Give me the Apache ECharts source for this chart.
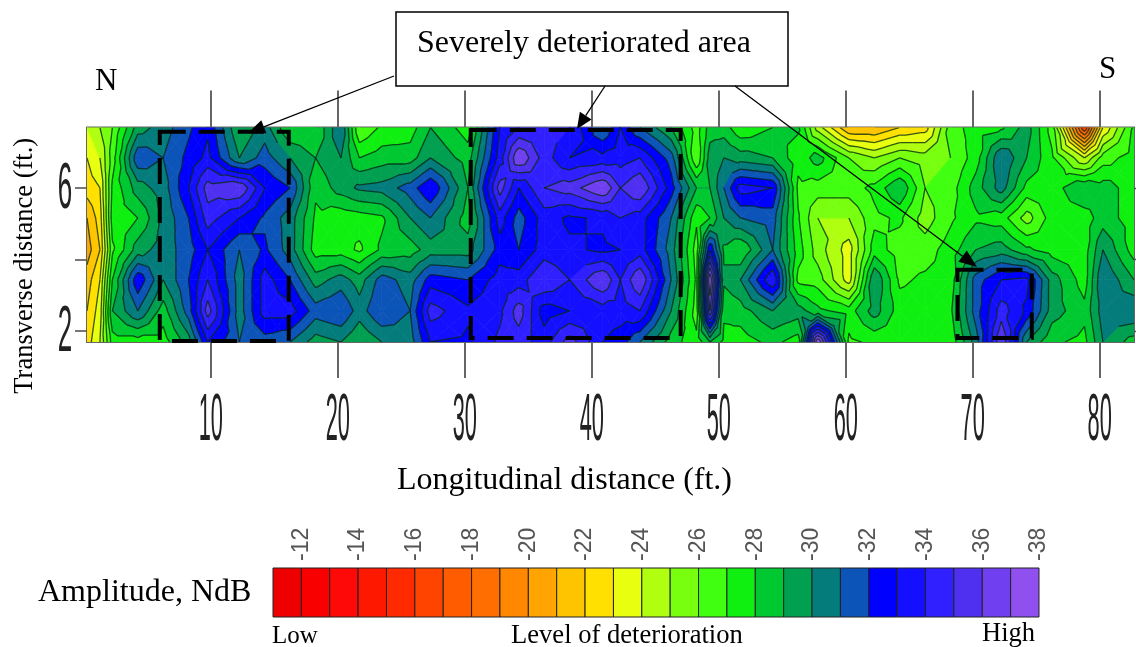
<!DOCTYPE html>
<html><head><meta charset="utf-8">
<style>html,body{margin:0;padding:0;background:#fff}#c{width:1136px;height:647px;filter:blur(0.45px)}</style>
<script src="https://cdn.jsdelivr.net/npm/echarts@6/dist/echarts.min.js"></script>
</head><body><div id="c"></div>
<script>
// longitudinal positions (ft) of the columns of readings
const xPositions=[0.25,1.27,2.25,4.25,6.25,8.25,9.76,12.25,14.25,16.25,18.25,20.25,21.7,23.46,25.7,27.3,30.25,32.76,34.25,36.25,38.25,40.87,42.25,43.8,46.25,48.25,49.3,50.4,51.7,54.25,56.25,57.8,60.25,62.25,64.25,66.25,68.25,70.25,72.25,74.25,76.25,78.8,80.25,82.7];
// transverse positions (ft) of the rows of readings, top to bottom
const yPositions=[7.69,6.84,6.0,5.16,4.27,3.43,2.56,1.69];
// amplitude (NdB) read at each transverse position, one list per longitudinal position
const c00=[-24,-23,-22.5,-21,-20.5,-21.5,-22,-22.5];
const c00a=[-25,-24,-23,-22.5,-22,-23,-23.5,-24];
const c01=[-26,-26.5,-27.2,-27.5,-26.8,-28,-29,-27.5];
const c02=[-29.5,-31.8,-29.5,-28,-29.5,-32.8,-31,-27.5];
const c03=[-30.5,-31,-30.5,-30.2,-30.5,-30,-28.5,-27.5];
const c04=[-31.8,-32.3,-33,-32,-31.5,-32,-31.5,-29.5];
const c05=[-32.8,-33.3,-35.5,-34.5,-33,-34,-35.5,-33];
const c06=[-29,-30,-36,-33,-31,-30.5,-30.5,-31];
const c07=[-30.5,-31.5,-33,-31.8,-32.2,-33.5,-33.5,-31.5];
const c08=[-28,-30,-32,-30.5,-30.5,-32,-33.5,-31];
const c09=[-28,-29,-28.2,-27.8,-27.5,-29.5,-31.5,-29.5];
const c10=[-31,-30,-29.5,-27.3,-27.5,-30.5,-32,-30];
const c11=[-26,-28,-30.2,-27.5,-26.8,-29.5,-30.5,-29];
const c12=[-27.2,-28.5,-30.4,-27.8,-28.2,-31.5,-32,-30];
const c13=[-27.5,-28.5,-31.5,-30,-28.5,-30.5,-31,-30.5];
const c14=[-29,-30,-33,-31,-29.5,-32.5,-34.5,-33];
const c15=[-27.5,-28.5,-29,-28.5,-29.5,-32,-33.2,-32.8];
const c16=[-33,-33.5,-35.5,-33.5,-32.5,-33.5,-33.8,-34.2];
const c17=[-34,-37,-33,-31.5,-32,-33.5,-35.5,-34.5];
const c18=[-34.5,-34.5,-35,-33.5,-33.5,-35,-32.5,-33.5];
const c19=[-34,-33,-35.5,-32.8,-33.2,-34,-33,-35.5];
const c20=[-31,-33.3,-37,-33.2,-32.8,-36,-33.5,-33];
const c21=[-33,-33.5,-35,-34,-33,-34,-33.5,-32.5];
const c22=[-31,-34,-36,-33.5,-33.5,-36,-34,-31];
const c23=[-29,-31.5,-32.5,-31,-30.5,-31,-30,-28.5];
const c24=[-26.5,-26,-29,-27.2,-26.5,-26.8,-26.5,-27.3];
const c25=[-28.5,-29.5,-29,-28,-33,-38,-36,-29];
const c25a=[-28.5,-30,-31,-30,-28.8,-29.2,-28.2,-27.7];
const c26=[-27.2,-29.5,-33.5,-31,-28,-30,-28.5,-27.5];
const c27=[-28,-29,-33,-31.5,-31,-34,-30,-28.3];
const c28=[-28.2,-27.3,-26.8,-27.1,-27.5,-26.7,-29.5,-27.5];
const c29=[-24.5,-28.5,-26.5,-25,-25.5,-26.5,-28.3,-38];
const c30=[-21,-26,-26.5,-25,-23.5,-23.5,-27.5,-26.8];
const c31=[-21,-25,-27.3,-26.7,-27.5,-30,-29.5,-27.2];
const c32=[-22,-26,-29,-27.2,-26.5,-26.8,-27.5,-27.4];
const c33=[-22.5,-25.5,-26,-25.5,-26.5,-27.2,-27.6,-27.5];
const c34=[-26.5,-26,-26.5,-26.8,-27.5,-27.4,-27.8,-27.3];
const c35=[-27.5,-27.5,-28.5,-27.8,-29,-31.5,-31.5,-30.5];
const c36=[-27.8,-31,-30.5,-27.5,-29.5,-33,-34.5,-36];
const c37=[-29.5,-29,-27.7,-25.5,-28.2,-33.3,-32.8,-30];
const c38=[-26.5,-27.2,-27.5,-27.5,-27.5,-29.5,-29.5,-28.2];
const c39=[-16,-24,-29,-27.5,-27.5,-27.5,-28.3,-27.7];
const c40=[-23,-26.5,-28.5,-28.5,-30,-31,-30.5,-30];
const c41=[-27.2,-27.5,-27.5,-27.5,-27.5,-29,-31,-28.5];
const amplitudeColumns=[c00,c00a,c01,c02,c03,c04,c05,c06,c07,c08,c09,c10,c11,c12,c13,c14,c15,c16,c17,c18,c19,c20,c21,c22,c23,c24,c25,c25a,c26,c27,c28,c29,c30,c31,c32,c33,c34,c35,c36,c37,c38,c39,c40,c41];
// colour bands, each one NdB wide, from -11 down to -38
const bandTop=-11;
const bandColors=['#ee0000','#f80000','#ff0808','#ff1800','#ff2a00','#ff4400','#ff5c00','#ff6e00','#ff8800','#ffa400','#ffc400','#ffe000','#e8ff10','#b0ff10','#78ff10','#40ff10','#10f010','#00c830','#00a050','#047c7c','#0c54b8','#0000ff','#1410ff','#3020ff','#5030f0','#7040f0','#9050f0'];
// axis ticks
const xTicks=[10,20,30,40,50,60,70,80];
const yTicks=[2,4,6];
const yTickLabels=[2,6];
// severely deteriorated areas (ft): x from, x to, y from, y to
const areaXFrom=[5.98,30.47,68.8];
const areaXTo=[16.14,47.0,74.65];
const areaYFrom=[1.72,1.8,1.8];
const areaYTo=[7.57,7.62,3.71];

const xMin=0.25,xMax=82.7,yMin=1.69,yMax=7.69;
const serif='"Liberation Serif","Times New Roman",serif';
const sans='"Liberation Sans",Arial,sans-serif';

// ---- contour geometry: each grid cell is split in four triangles around its mean
function triangles(i,j){
  const a=[xPositions[i],yPositions[j],amplitudeColumns[i][j]],
        b=[xPositions[i+1],yPositions[j],amplitudeColumns[i+1][j]],
        c=[xPositions[i+1],yPositions[j+1],amplitudeColumns[i+1][j+1]],
        d=[xPositions[i],yPositions[j+1],amplitudeColumns[i][j+1]];
  const m=[(a[0]+b[0])/2,(a[1]+d[1])/2,(a[2]+b[2]+c[2]+d[2])/4];
  return [[a,b,m],[b,c,m],[c,d,m],[d,a,m]];
}
function clip(poly,lvl,keepAbove){
  const out=[];
  for(let k=0;k<poly.length;k++){
    const p=poly[k],q=poly[(k+1)%poly.length];
    const pin=keepAbove?p[2]>=lvl:p[2]<=lvl, qin=keepAbove?q[2]>=lvl:q[2]<=lvl;
    if(pin)out.push(p);
    if(pin!==qin){const t=(lvl-p[2])/(q[2]-p[2]);out.push([p[0]+t*(q[0]-p[0]),p[1]+t*(q[1]-p[1]),lvl]);}
  }
  return out;
}
function renderFill(params,api){
  const i=api.value(2),j=api.value(3),children=[];
  triangles(i,j).forEach(tri=>{
    const vals=tri.map(p=>p[2]);
    const hi=Math.max(...vals),lo=Math.min(...vals);
    bandColors.forEach((col,b)=>{
      const top=bandTop-b,bot=top-1;
      if(bot>hi||top<lo)return;
      let poly=clip(clip(tri,bot,true),top,false);
      if(poly.length<3)return;
      children.push({type:'polygon',silent:true,shape:{points:poly.map(p=>api.coord([p[0],p[1]]))},style:{fill:col,stroke:col,lineWidth:0.7}});
    });
  });
  return {type:'group',children};
}
function renderLines(params,api){
  const i=api.value(2),j=api.value(3),children=[];
  triangles(i,j).forEach(tri=>{
    for(let b=0;b<=bandColors.length;b++){
      const lvl=bandTop-b+1e-5,pts=[];
      if(tri.filter(p=>Math.abs(p[2]-lvl)<1e-3).length>=2)continue;
      for(let k=0;k<3;k++){
        const p=tri[k],q=tri[(k+1)%3];
        if((p[2]-lvl)*(q[2]-lvl)<0){const t=(lvl-p[2])/(q[2]-p[2]);pts.push(api.coord([p[0]+t*(q[0]-p[0]),p[1]+t*(q[1]-p[1])]));}
      }
      if(pts.length===2)children.push({type:'line',silent:true,shape:{x1:pts[0][0],y1:pts[0][1],x2:pts[1][0],y2:pts[1][1]},style:{stroke:'rgba(6,40,16,0.78)',lineWidth:1.3}});
    }
  });
  return {type:'group',children};
}
const cells=[];
for(let i=0;i<xPositions.length-1;i++)for(let j=0;j<yPositions.length-1;j++)cells.push([xPositions[i],yPositions[j],i,j]);

function arrow(x1,y1,x2,y2,head,w){
  const a=Math.atan2(y2-y1,x2-x1),cx=x2-head*Math.cos(a),cy=y2-head*Math.sin(a),nx=-Math.sin(a)*w,ny=Math.cos(a)*w;
  return [
    {type:'line',z:30,shape:{x1,y1,x2:cx,y2:cy},style:{stroke:'#000',lineWidth:1.3}},
    {type:'polygon',z:30,shape:{points:[[x2,y2],[cx+nx,cy+ny],[cx-nx,cy-ny]]},style:{fill:'#000'}}
  ];
}
function label(text,x,y,size,align){return {type:'text',z:31,x,y,style:{text,font:size+'px '+serif,fill:'#000',textAlign:align||'left',textVerticalAlign:'middle'}};}

const chart=echarts.init(document.getElementById('c'),null,{renderer:'canvas'});
chart.setOption({
  animation:false,
  backgroundColor:'#fff',
  grid:[
    {left:87,top:127.5,width:1047,height:214.5,show:true,borderColor:'#666',borderWidth:2,backgroundColor:'transparent'},
    {left:273,top:568,width:766,height:49,show:false}
  ],
  xAxis:[
    {gridIndex:0,type:'value',position:'bottom',min:xMin,max:xMax,name:'Longitudinal distance (ft.)',nameLocation:'middle',nameGap:123,
     nameTextStyle:{fontFamily:serif,fontSize:32,color:'#000',padding:[0,92,0,0]},
     axisLine:{show:false},splitLine:{show:false},axisLabel:{show:false},
     axisTick:{show:true,length:36,customValues:xTicks,lineStyle:{color:'#666',width:2}}},
    {gridIndex:0,type:'value',position:'top',min:xMin,max:xMax,
     axisLine:{show:false},splitLine:{show:false},axisLabel:{show:false},
     axisTick:{show:true,length:37,customValues:xTicks,lineStyle:{color:'#666',width:2}}},
    {gridIndex:1,type:'value',position:'top',inverse:true,min:-38,max:-11,interval:2,
     axisLine:{show:false},splitLine:{show:false},axisTick:{show:false},
     axisLabel:{show:true,rotate:90,margin:7,fontSize:23,fontFamily:sans,color:'#555',showMaxLabel:false,showMinLabel:true,hideOverlap:false}}
  ],
  yAxis:[
    {gridIndex:0,type:'value',position:'left',min:yMin,max:yMax,name:'Transverse distance (ft.)',nameLocation:'middle',nameGap:48,
     nameTextStyle:{fontFamily:serif,fontSize:26.5,color:'#000',padding:[0,62,0,0]},
     axisLine:{show:false},splitLine:{show:false},axisLabel:{show:false},
     axisTick:{show:true,length:12,customValues:yTicks,lineStyle:{color:'#555',width:1.6}}},
    {gridIndex:0,type:'value',position:'right',min:yMin,max:yMax,
     axisLine:{show:false},splitLine:{show:false},axisLabel:{show:false},
     axisTick:{show:true,length:4,customValues:yTicks,lineStyle:{color:'#555',width:1.4}}},
    {gridIndex:1,type:'value',min:0,max:1,show:false}
  ],
  series:[
    {type:'custom',name:'Amplitude',xAxisIndex:0,yAxisIndex:0,coordinateSystem:'cartesian2d',z:2,clip:true,silent:true,
     data:cells,encode:{x:0,y:1},renderItem:renderFill},
    {type:'custom',name:'Contours',xAxisIndex:0,yAxisIndex:0,coordinateSystem:'cartesian2d',z:3,clip:true,silent:true,
     data:cells,encode:{x:0,y:1},renderItem:renderLines},
    {type:'custom',name:'Deteriorated areas',xAxisIndex:0,yAxisIndex:0,z:5,silent:true,clip:false,
     data:areaXFrom.map((v,k)=>[v,areaYFrom[k],areaXTo[k],areaYTo[k]]),encode:{x:[0,2],y:[1,3]},
     renderItem(p,api){
       const a=api.coord([api.value(0),api.value(3)]),b=api.coord([api.value(2),api.value(1)]);
       return {type:'rect',shape:{x:a[0],y:a[1],width:b[0]-a[0],height:b[1]-a[1]},style:{fill:'none',stroke:'#000',lineWidth:4,lineDash:[26,13]}};
     }},
    {type:'custom',name:'x tick labels',xAxisIndex:0,yAxisIndex:0,z:6,silent:true,clip:false,
     data:xTicks.map(v=>[v,yMin]),encode:{x:0,y:1},
     renderItem(p,api){
       const c=api.coord([api.value(0),yMin]);
       return {type:'text',x:c[0],y:c[1]+80,scaleX:0.33,style:{text:String(api.value(0)),font:'66px '+sans,fill:'#222',textAlign:'center',textVerticalAlign:'middle'}};
     }},
    {type:'custom',name:'y tick labels',xAxisIndex:0,yAxisIndex:0,z:6,silent:true,clip:false,
     data:yTickLabels.map(v=>[xMin,v]),encode:{x:0,y:1},
     renderItem(p,api){
       const c=api.coord([xMin,api.value(1)]);
       return {type:'text',x:c[0]-22,y:c[1]+2,scaleX:0.4,style:{text:String(api.value(1)),font:'65px '+sans,fill:'#222',textAlign:'center',textVerticalAlign:'middle'}};
     }},
    {type:'custom',name:'Amplitude scale',xAxisIndex:2,yAxisIndex:2,z:2,silent:true,clip:false,
     data:bandColors.map((col,k)=>[bandTop-k,bandTop-k-1,k]),encode:{x:[0,1]},
     renderItem(p,api){
       const a=api.coord([api.value(0),1]),b=api.coord([api.value(1),0]);
       return {type:'rect',shape:{x:a[0],y:a[1],width:b[0]-a[0],height:b[1]-a[1]},style:{fill:bandColors[api.value(2)],stroke:'#222',lineWidth:1}};
     }}
  ],
  graphic:[
    {type:'rect',z:29,shape:{x:396,y:12,width:392,height:74},style:{fill:'#fff',stroke:'#000',lineWidth:1.5}},
    label('Severely deteriorated area',417,44,32),
    ...arrow(394,76,248,133,17,7),
    ...arrow(605,86,577,129,16,7),
    ...arrow(735,86,977,267,18,7),
    label('N',95,82,31),
    label('S',1099,70,31),
    label('Amplitude, NdB',38,593,32),
    label('Low',272,636,25),
    label('Level of deterioration',511,636,26.6),
    label('High',982,634,26.5)
  ]
});
</script></body></html>
